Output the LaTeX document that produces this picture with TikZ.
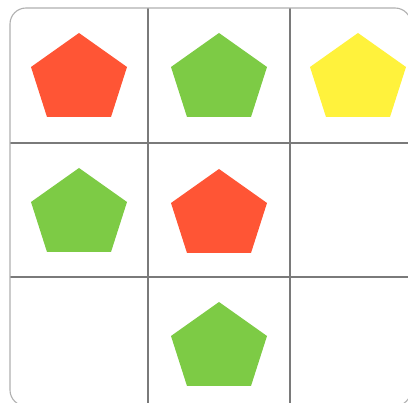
\documentclass[tikz,border=0pt]{standalone}
\definecolor{pred}{HTML}{FF5535}
\definecolor{pgreen}{HTML}{7DCB45}
\definecolor{pyellow}{HTML}{FFF23C}
\definecolor{gridc}{HTML}{7A7A7A}
\definecolor{framec}{HTML}{B0B0B0}
\tikzset{
  pics/pent/.style={code={\fill[#1] (0,0) -- (48,-34) -- (32,-84) -- (-32,-84) -- (-48,-34) -- cycle;}},
  gridline/.style={draw=gridc, line width=1.1pt},
  frameline/.style={draw=framec, line width=1.1pt, rounded corners=16pt}
}
\begin{document}
\begin{tikzpicture}[x=1pt,y=1pt]
\useasboundingbox (0,0) rectangle (408,-403);
\clip (0,0) rectangle (408,-403);
\fill[white] (0,0) rectangle (408,-403);
% grid
\draw[gridline] (148,-8) -- (148,-405);
\draw[gridline] (290,-8) -- (290,-405);
\draw[gridline] (10,-143) -- (410,-143);
\draw[gridline] (10,-277) -- (410,-277);
\draw[frameline] (10,-8) rectangle (411,-406);
% pentagons
\pic at (79,-33) {pent=pred};
\pic at (219,-33) {pent=pgreen};
\pic at (358,-33) {pent=pyellow};
\pic at (79,-168) {pent=pgreen};
\pic at (219,-169) {pent=pred};
\pic at (219,-302) {pent=pgreen};
\end{tikzpicture}
\end{document}
